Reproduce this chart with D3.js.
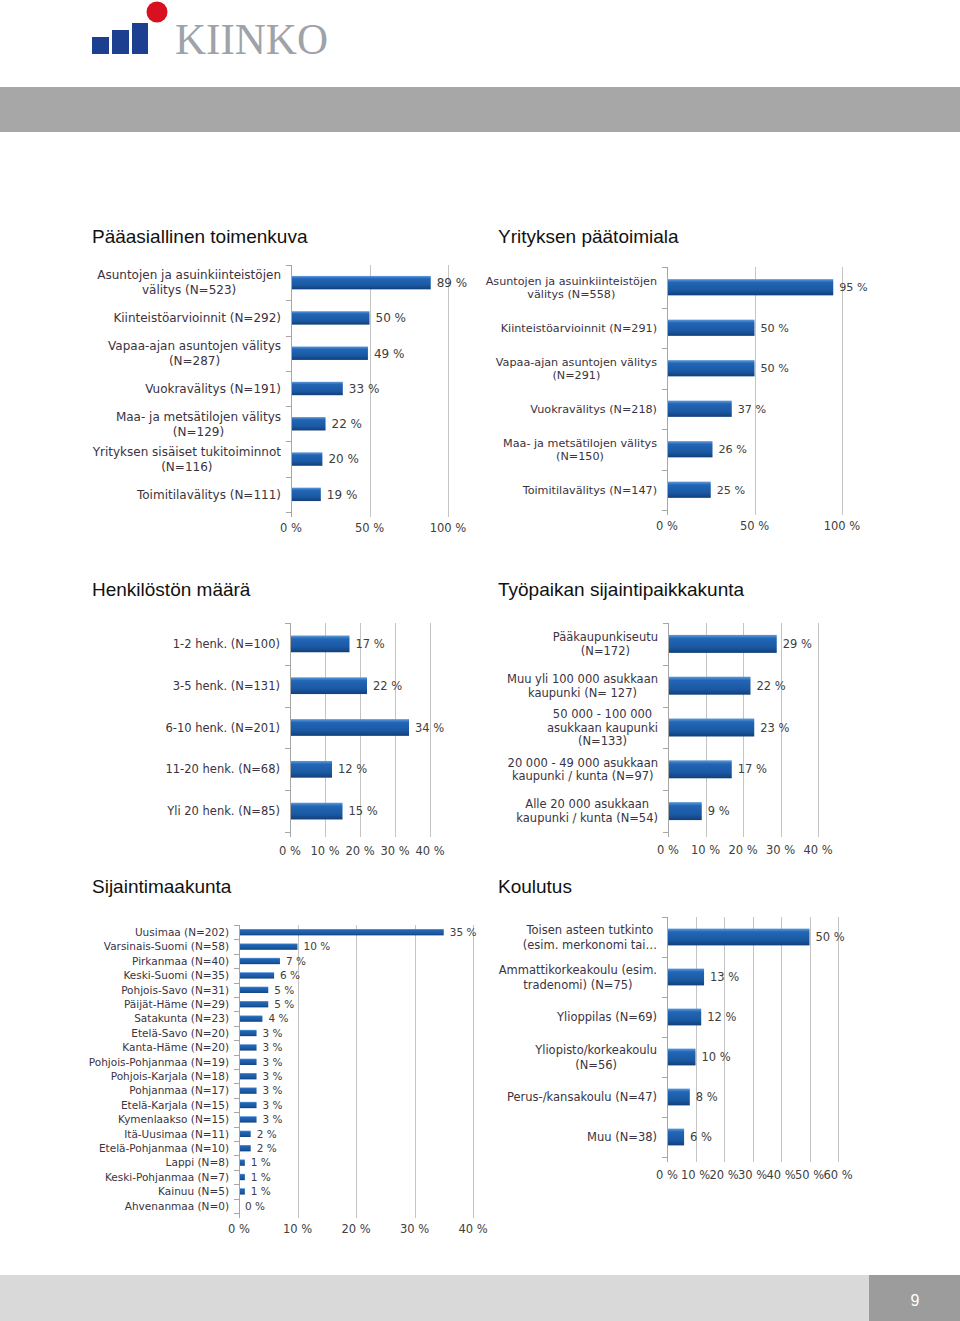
<!DOCTYPE html>
<html>
<head>
<meta charset="utf-8">
<script src="https://cdn.jsdelivr.net/npm/d3@7/dist/d3.min.js"></script>
<style>
  body { margin: 0; background: #fff; }
  svg { display: block; font-family: "DejaVu Sans", Verdana, sans-serif; }
</style>
</head>
<body>
<svg id="page" width="960" height="1321"></svg>
<script>
// --- data ---
const toimenkuvaLabels = [
  'Asuntojen ja asuinkiinteistöjen\nvälitys (N=523)',
  'Kiinteistöarvioinnit (N=292)',
  'Vapaa-ajan asuntojen välitys\n(N=287)',
  'Vuokravälitys (N=191)',
  'Maa- ja metsätilojen välitys\n(N=129)',
  'Yrityksen sisäiset tukitoiminnot\n(N=116)',
  'Toimitilavälitys (N=111)'
];
const toimenkuvaValues = [89, 50, 49, 33, 22, 20, 19];

const toimialaLabels = [
  'Asuntojen ja asuinkiinteistöjen\nvälitys (N=558)',
  'Kiinteistöarvioinnit (N=291)',
  'Vapaa-ajan asuntojen välitys\n(N=291)',
  'Vuokravälitys (N=218)',
  'Maa- ja metsätilojen välitys\n(N=150)',
  'Toimitilavälitys (N=147)'
];
const toimialaValues = [95, 50, 50, 37, 26, 25];

const henkilostoLabels = [
  '1-2 henk. (N=100)',
  '3-5 henk. (N=131)',
  '6-10 henk. (N=201)',
  '11-20 henk.  (N=68)',
  'Yli 20 henk.  (N=85)'
];
const henkilostoValues = [17, 22, 34, 12, 15];

const paikkakuntaLabels = [
  'Pääkaupunkiseutu\n(N=172)',
  'Muu yli 100 000 asukkaan\nkaupunki (N= 127)',
  '50 000 -  100 000\nasukkaan kaupunki\n(N=133)',
  '20 000 -  49 000 asukkaan\nkaupunki / kunta (N=97)',
  'Alle 20 000 asukkaan\nkaupunki / kunta (N=54)'
];
const paikkakuntaValues = [29, 22, 23, 17, 9];

const maakuntaLabels = [
  'Uusimaa (N=202)', 'Varsinais-Suomi (N=58)', 'Pirkanmaa (N=40)', 'Keski-Suomi (N=35)',
  'Pohjois-Savo (N=31)', 'Päijät-Häme (N=29)', 'Satakunta (N=23)', 'Etelä-Savo (N=20)',
  'Kanta-Häme (N=20)', 'Pohjois-Pohjanmaa (N=19)', 'Pohjois-Karjala (N=18)', 'Pohjanmaa (N=17)',
  'Etelä-Karjala (N=15)', 'Kymenlaakso (N=15)', 'Itä-Uusimaa (N=11)', 'Etelä-Pohjanmaa (N=10)',
  'Lappi (N=8)', 'Keski-Pohjanmaa (N=7)', 'Kainuu (N=5)', 'Ahvenanmaa (N=0)'
];
const maakuntaValues = [35, 10, 7, 6, 5, 5, 4, 3, 3, 3, 3, 3, 3, 3, 2, 2, 1, 1, 1, 0];

const koulutusLabels = [
  'Toisen asteen tutkinto\n(esim. merkonomi tai…',
  'Ammattikorkeakoulu (esim.\ntradenomi) (N=75)',
  'Ylioppilas (N=69)',
  'Yliopisto/korkeakoulu\n(N=56)',
  'Perus-/kansakoulu  (N=47)',
  'Muu (N=38)'
];
const koulutusValues = [50, 13, 12, 10, 8, 6];

const ticks100 = [0, 50, 100];
const ticks40 = [0, 10, 20, 30, 40];
const ticks60 = [0, 10, 20, 30, 40, 50, 60];

// --- layout of the six panels ---
const panels = [
  { title: 'Pääasiallinen toimenkuva', tx: 92, ty: 243, labels: toimenkuvaLabels, values: toimenkuvaValues,
    ticks: ticks100, xr: [291, 448], yr: [265, 512], pad: 0.62, fs: 12, lh: 15, tickY: 532 },
  { title: 'Yrityksen päätoimiala', tx: 498, ty: 243, labels: toimialaLabels, values: toimialaValues,
    ticks: ticks100, xr: [667, 842], yr: [267, 510], pad: 0.6, fs: 11.2, lh: 13, tickY: 530 },
  { title: 'Henkilöstön määrä', tx: 92, ty: 596, labels: henkilostoLabels, values: henkilostoValues,
    ticks: ticks40, xr: [290, 430], yr: [623, 832], pad: 0.6, fs: 11.5, lh: 14, tickY: 855 },
  { title: 'Työpaikan sijaintipaikkakunta', tx: 498, ty: 596, labels: paikkakuntaLabels, values: paikkakuntaValues,
    ticks: ticks40, xr: [668, 818], yr: [623, 832], pad: 0.57, fs: 11.5, lh: 13.5, tickY: 854 },
  { title: 'Sijaintimaakunta', tx: 92, ty: 893, labels: maakuntaLabels, values: maakuntaValues,
    ticks: ticks40, xr: [239, 473], yr: [925, 1213], pad: 0.56, fs: 10.5, lh: 14, tickY: 1233 },
  { title: 'Koulutus', tx: 498, ty: 893, labels: koulutusLabels, values: koulutusValues,
    ticks: ticks60, xr: [667, 838], yr: [917, 1157], pad: 0.58, fs: 11.5, lh: 15, tickY: 1179 }
];

const svg = d3.select('#page');

// bar gradient
const defs = svg.append('defs');
const grad = defs.append('linearGradient').attr('id', 'barGrad')
  .attr('x1', 0).attr('y1', 0).attr('x2', 0).attr('y2', 1);
[['0%', '#5f9ada'], ['20%', '#2266b6'], ['70%', '#1a58a2'], ['100%', '#123f78']].forEach(s =>
  grad.append('stop').attr('offset', s[0]).attr('stop-color', s[1]));

// header: logo + grey band
const logo = svg.append('g');
[[92, 37, 17, 17], [112, 30, 17, 24], [132, 23, 16, 31]].forEach(r =>
  logo.append('rect').attr('x', r[0]).attr('y', r[1]).attr('width', r[2]).attr('height', r[3]).attr('fill', '#1c3f8f'));
logo.append('circle').attr('cx', 157).attr('cy', 12).attr('r', 10.5).attr('fill', '#d8101f');
logo.append('text').attr('x', 175).attr('y', 54)
  .attr('font-family', '"Liberation Serif", "DejaVu Serif", serif').attr('font-size', 44)
  .attr('textLength', 153).attr('lengthAdjust', 'spacingAndGlyphs')
  .attr('fill', '#9ea3a9').text('KIINKO');

svg.append('rect').attr('x', 0).attr('y', 87).attr('width', 960).attr('height', 45).attr('fill', '#a7a7a7');

// footer
svg.append('rect').attr('x', 0).attr('y', 1275).attr('width', 960).attr('height', 46).attr('fill', '#d9d9d9');
svg.append('rect').attr('x', 869).attr('y', 1275).attr('width', 91).attr('height', 46).attr('fill', '#9c9c9c');
svg.append('text').attr('x', 915).attr('y', 1306).attr('text-anchor', 'middle')
  .attr('font-family', '"Liberation Sans", Arial, sans-serif').attr('font-size', 16)
  .attr('fill', '#fff').text('9');

panels.forEach(p => {
  const g = svg.append('g');

  g.append('text').attr('x', p.tx).attr('y', p.ty)
    .attr('font-family', '"Liberation Sans", Arial, sans-serif').attr('font-size', 19)
    .attr('fill', '#111').text(p.title);

  const x = d3.scaleLinear().domain([0, d3.max(p.ticks)]).range(p.xr);
  const y = d3.scaleBand().domain(p.labels).range(p.yr)
    .paddingInner(p.pad).paddingOuter(p.pad / 2);

  // gridlines
  g.selectAll('.grid').data(p.ticks.slice(1)).enter().append('line')
    .attr('x1', d => Math.round(x(d)) + 0.5).attr('x2', d => Math.round(x(d)) + 0.5)
    .attr('y1', p.yr[0]).attr('y2', p.yr[1] + 5)
    .attr('stroke', '#c4c4c4').attr('stroke-width', 1);

  // value axis tick labels
  g.selectAll('.tick').data(p.ticks).enter().append('text')
    .attr('x', d => x(d)).attr('y', p.tickY)
    .attr('text-anchor', 'middle').attr('font-size', 11.5).attr('fill', '#404040')
    .text(d => d + ' %');

  // category axis line with ticks between categories
  const step = y.step();
  const bounds = d3.range(p.labels.length + 1).map(i => p.yr[0] + i * step);
  g.append('line').attr('x1', Math.round(x(0)) + 0.5).attr('x2', Math.round(x(0)) + 0.5)
    .attr('y1', p.yr[0]).attr('y2', p.yr[1] + 5).attr('stroke', '#a6a6a6');
  g.selectAll('.ctick').data(bounds).enter().append('line')
    .attr('x1', x(0) - 5).attr('x2', x(0))
    .attr('y1', d => Math.round(d) + 0.5).attr('y2', d => Math.round(d) + 0.5)
    .attr('stroke', '#a6a6a6');

  // bars
  g.selectAll('.bar').data(p.values).enter().append('rect')
    .attr('x', Math.round(x(0)) + 1)
    .attr('y', (d, i) => y(p.labels[i]))
    .attr('width', d => Math.max(0, x(d) - Math.round(x(0)) - 1))
    .attr('height', y.bandwidth())
    .attr('fill', 'url(#barGrad)');

  // value labels
  g.selectAll('.val').data(p.values).enter().append('text')
    .attr('x', d => x(d) + 6)
    .attr('y', (d, i) => y(p.labels[i]) + y.bandwidth() / 2)
    .attr('dy', '0.36em').attr('font-size', p.fs).attr('fill', '#404040')
    .text(d => d + ' %');

  // category labels: multi-line blocks, lines centred, block right-aligned to the axis
  const right = x(0) - 10;
  g.selectAll('.cat').data(p.labels).enter().append('text')
    .attr('font-size', p.fs).attr('fill', '#3a3342')
    .each(function(d) {
      const lines = d.split('\n');
      const cy = y(d) + y.bandwidth() / 2;
      const t = d3.select(this);
      const spans = lines.map((ln, k) => t.append('tspan')
        .attr('y', cy + (k - (lines.length - 1) / 2) * p.lh)
        .attr('dy', '0.36em').text(ln));
      const w = d3.max(spans, s => s.node().getComputedTextLength());
      t.attr('text-anchor', 'middle');
      spans.forEach(s => s.attr('x', right - w / 2));
    });
});
</script>
</body>
</html>
